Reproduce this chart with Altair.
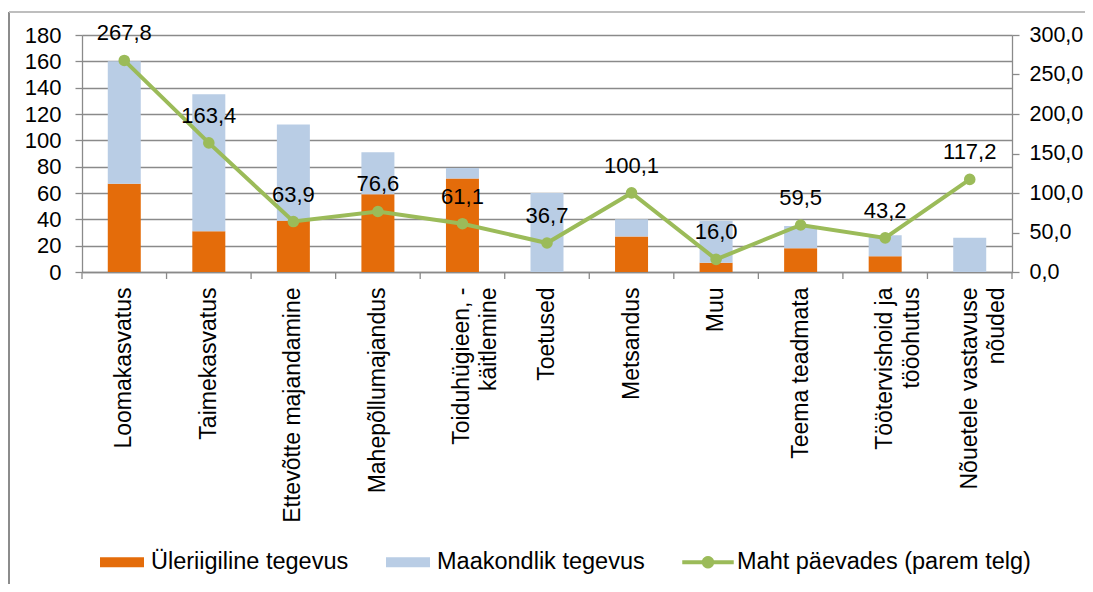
import altair as alt
import pandas as pd

categories = ["Loomakasvatus", "Taimekasvatus", "Ettevõtte majandamine", "Mahepõllumajandus",
              "Toiduhügieen, -|käitlemine", "Toetused", "Metsandus", "Muu", "Teema teadmata",
              "Töötervishoid ja|tööohutus", "Nõuetele vastavuse|nõuded"]
yleriigiline = [67, 31, 39, 59, 71, 0, 27, 7, 18, 12, 0]
maakondlik = [93, 104, 73, 32, 8, 60, 13, 32, 17, 16, 26]
maht = [267.8, 163.4, 63.9, 76.6, 61.1, 36.7, 100.1, 16.0, 59.5, 43.2, 117.2]

series_names = ["Üleriigiline tegevus", "Maakondlik tegevus", "Maht päevades (parem telg)"]
series_colors = ["#E46C0A", "#B9CDE5", "#9BBB59"]

FONT = "Liberation Sans"
GRAY = "#8A8A8A"

rows = []
for i, c in enumerate(categories):
    rows.append({"cat": c, "series": series_names[0], "value": yleriigiline[i], "ord": 0})
    rows.append({"cat": c, "series": series_names[1], "value": maakondlik[i], "ord": 1})
bars_df = pd.DataFrame(rows)
line_df = pd.DataFrame({"cat": categories, "maht": maht})
last_df = pd.DataFrame({"cat": [categories[-1]]})

xscale = alt.Scale(domain=categories, paddingInner=0, paddingOuter=0)
x_axis = alt.Axis(title=None, labelAngle=270, labelAlign="right", labelBaseline="middle",
                  labelPadding=15, labelFontSize=23, labelLineHeight=27, ticks=False,
                  labelLimit=0, labelOverlap=False,
                  domain=True, domainColor=GRAY, domainWidth=1.3,
                  labelExpr="split(datum.label, '|')", labelFont=FONT, labelColor="black")

rect_path = "M-1,-0.23H1V0.23H-1Z"
line_path = ("M-1.17,-0.09H-0.27A0.285,0.285 0 0 1 0.27,-0.09H1.17V0.09H0.27"
             "A0.285,0.285 0 0 1 -0.27,0.09H-1.17Z")
sym_expr = f"datum.value == '{series_names[2]}' ? '{line_path}' : '{rect_path}'"

bars = alt.Chart(bars_df).mark_bar(size=33).encode(
    x=alt.X("cat:N", scale=xscale, sort=categories, axis=x_axis),
    y=alt.Y("value:Q", stack="zero",
            scale=alt.Scale(domain=[0, 180]),
            axis=alt.Axis(title=None, values=list(range(0, 181, 20)), orient="left",
                          grid=True, gridColor=GRAY, gridWidth=1.3, tickSize=7,
                          tickColor=GRAY, tickWidth=1.3, domainColor=GRAY, domainWidth=1.3,
                          labelPadding=14, labelFontSize=22, labelFont=FONT, labelColor="black")),
    color=alt.Color("series:N",
                    scale=alt.Scale(domain=series_names, range=series_colors),
                    legend=alt.Legend(title=None, orient="none", legendX=18, legendY=505,
                                      direction="horizontal", columns=3, columnPadding=37,
                                      symbolType=alt.ExprRef(expr=sym_expr), symbolSize=1936,
                                      symbolStrokeWidth=0, symbolOpacity=1, labelOffset=7,
                                      labelFontSize=23.5, labelFont=FONT, labelColor="black",
                                      labelLimit=0, padding=0)),
    order=alt.Order("ord:Q", sort="ascending"),
)

ticks_left = alt.Chart(line_df).mark_rule(color=GRAY, strokeWidth=1.3).encode(
    x=alt.X("cat:N", scale=xscale, sort=categories, bandPosition=0),
    y=alt.value(237), y2=alt.value(244),
)
ticks_right = alt.Chart(last_df).mark_rule(color=GRAY, strokeWidth=1.3).encode(
    x=alt.X("cat:N", scale=xscale, sort=categories, bandPosition=1),
    y=alt.value(237), y2=alt.value(244),
)

y2 = alt.Y("maht:Q", scale=alt.Scale(domain=[0, 300]),
           axis=alt.Axis(title=None, orient="right", values=list(range(0, 301, 50)), grid=False,
                         tickSize=7, tickColor=GRAY, tickWidth=1.3, domainColor=GRAY,
                         domainWidth=1.3, labelPadding=10, labelFontSize=21.5, labelFont=FONT,
                         labelColor="black", labelLimit=0,
                         labelExpr="replace(format(datum.value, '.1f'), '.', ',')"))

line = alt.Chart(line_df).mark_line(color=series_colors[2], strokeWidth=4).encode(
    x=alt.X("cat:N", scale=xscale, sort=categories), y=y2)
points = alt.Chart(line_df).mark_point(filled=True, size=135, opacity=1,
                                       color=series_colors[2]).encode(
    x=alt.X("cat:N", scale=xscale, sort=categories), y=y2)
labels = alt.Chart(line_df).transform_calculate(
    lab="replace(format(datum.maht, '.1f'), '.', ',')"
).mark_text(dy=-27, fontSize=22, font=FONT, color="black", baseline="middle").encode(
    x=alt.X("cat:N", scale=xscale, sort=categories), y=y2, text="lab:N")

frame_left = alt.Chart(line_df).mark_rule(color="#8C8C8C", strokeWidth=2).encode(
    x=alt.value(-73), y=alt.value(-23), y2=alt.value(600))
frame_top = alt.Chart(line_df).mark_rule(color="#BEBEBE", strokeWidth=1.3).encode(
    x=alt.value(-73), x2=alt.value(1010), y=alt.value(-23))

left_layer = alt.layer(bars, ticks_left, ticks_right, frame_left, frame_top)
right_layer = alt.layer(line, points, labels)

chart = alt.layer(left_layer, right_layer).resolve_scale(y="independent").properties(
    width=930, height=237,
    padding={"left": 74, "top": 27, "right": 73, "bottom": 312},
    autosize=alt.AutoSizeParams(type="none"),
).configure_view(stroke=None).configure(background="white")

chart.save("out.html", embed_options={"renderer": "svg", "actions": False})
